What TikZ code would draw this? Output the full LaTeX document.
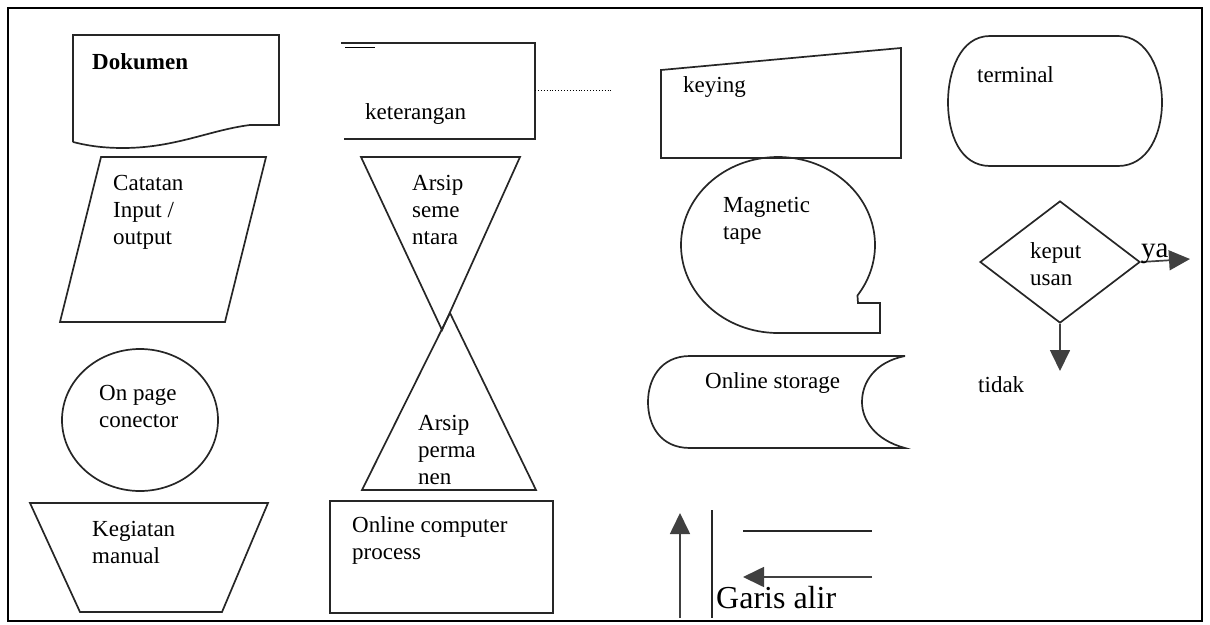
\documentclass[tikz,border=0pt]{standalone}
\usepackage{fontspec}
\setmainfont{Liberation Serif}
\usetikzlibrary{shapes.geometric}
\usetikzlibrary{arrows.meta}
\tikzset{>=latex}
\tikzstyle{symbol} = [line width=1.7pt, draw=black!85]
\tikzstyle{txt} = [anchor=base west, inner sep=0pt, align=left, font=\fontsize{23}{27}\selectfont]
\tikzstyle{arrow} = [line width=1.7pt, draw=black!75, -{Triangle[length=21pt,width=20pt]}]

\begin{document}
\begin{tikzpicture}[x=1pt, y=1pt]
    \useasboundingbox (0,0) rectangle (1210,-624);
    \draw[line width=2pt] (8,-8) rectangle (1202,-621);

    % dokumen
    \draw[symbol] (73,-142) -- (73,-35) -- (279,-35) -- (279,-125) -- (250,-125)
        .. controls (210,-130) and (175,-148) .. (123,-148)
        .. controls (100,-148) and (85,-145) .. (73,-142);
    \node[txt, font=\fontsize{23}{27}\selectfont\bfseries] (dokumen) at (92,-69) {Dokumen};

    % keterangan
    \draw[symbol] (341,-43) -- (535,-43) -- (535,-139) -- (344,-139);
    \draw[line width=0.8pt] (345,-47) -- (375,-47);
    \node[txt] (ket) at (365,-119) {keterangan};
    \draw[line width=0.9pt, dotted] (535,-90) -- (612,-90);

    % keying
    \draw[symbol] (661,-70) -- (901,-48) -- (901,-158) -- (661,-158) -- cycle;
    \node[txt] (keying) at (683,-92) {keying};

    % terminal
    \draw[symbol] (990,-36) -- (1118,-36)
        .. controls (1148,-36) and (1162,-72) .. (1162,-102)
        .. controls (1162,-134) and (1148,-166) .. (1118,-166) -- (990,-166)
        .. controls (960,-166) and (948,-134) .. (948,-102)
        .. controls (948,-72) and (960,-36) .. cycle;
    \node[txt] (terminal) at (977,-82) {terminal};

    % catatan input/output
    \draw[symbol] (101,-157) -- (266,-157) -- (225,-322) -- (60,-322) -- cycle;
    \node[txt] (catatan) at (113,-244) {Catatan\\Input /\\output};

    % arsip sementara & permanen
    \draw[symbol] (361,-157) -- (520,-157) -- (442,-330) -- cycle;
    \node[txt] (sementara) at (412,-244) {Arsip\\seme\\ntara};
    \draw[symbol] (450,-313) -- (536,-490) -- (362,-490) -- cycle;
    \node[txt] (permanen) at (418,-484) {Arsip\\perma\\nen};

    % magnetic tape
    \draw[symbol] (858,-303) -- (880,-303) -- (880,-333) -- (778,-333)
        arc[start angle=270, end angle=-35, x radius=97, y radius=88] -- cycle;
    \node[txt] (tape) at (723,-239) {Magnetic\\tape};

    % keputusan
    \node[diamond, symbol, minimum width=160pt, minimum height=122pt, inner sep=0pt] (dec) at (1060,-262) {};
    \node[txt] (keputusan) at (1030,-285) {keput\\usan};
    \coordinate (yaEnd) at (1190,-259);
    \coordinate (tidakEnd) at (1060,-371);
    \draw[arrow] (dec.east) -- (yaEnd);
    \draw[arrow] (dec.south) -- (tidakEnd);
    \node[txt, font=\fontsize{29}{30}\selectfont] (ya) at (1141,-257) {ya};
    \node[txt] (tidak) at (978,-392) {tidak};

    % on page connector
    \draw[symbol] (140,-420) ellipse [x radius=78, y radius=71];
    \node[txt] (connector) at (99,-427) {On page\\conector};

    % online storage
    \draw[symbol] (905,-356) -- (690,-356)
        .. controls (660,-356) and (648,-380) .. (648,-402)
        .. controls (648,-425) and (660,-448) .. (690,-448) -- (905,-448)
        .. controls (875,-440) and (862,-420) .. (862,-402)
        .. controls (862,-382) and (875,-362) .. (905,-356);
    \node[txt] (storage) at (705,-388) {Online storage};

    % kegiatan manual
    \draw[symbol] (30,-503) -- (268,-503) -- (222,-612) -- (80,-612) -- cycle;
    \node[txt] (manual) at (92,-563) {Kegiatan\\manual};

    % online computer process
    \draw[symbol] (330,-501) rectangle (553,-613);
    \node[txt] (process) at (352,-559) {Online computer\\process};

    % garis alir
    \coordinate (upStart) at (680,-618);
    \coordinate (upEnd) at (680,-513);
    \coordinate (lineTop) at (712,-510);
    \coordinate (lineBot) at (712,-618);
    \coordinate (hStart) at (743,-531);
    \coordinate (hEnd) at (872,-531);
    \coordinate (leftStart) at (872,-577);
    \coordinate (leftEnd) at (743,-577);
    \draw[arrow] (upStart) -- (upEnd);
    \draw[symbol] (lineTop) -- (lineBot);
    \draw[symbol] (hStart) -- (hEnd);
    \draw[arrow] (leftStart) -- (leftEnd);
    \node[txt, font=\fontsize{32}{34}\selectfont] (alir) at (716,-608) {Garis alir};
\end{tikzpicture}
\end{document}
